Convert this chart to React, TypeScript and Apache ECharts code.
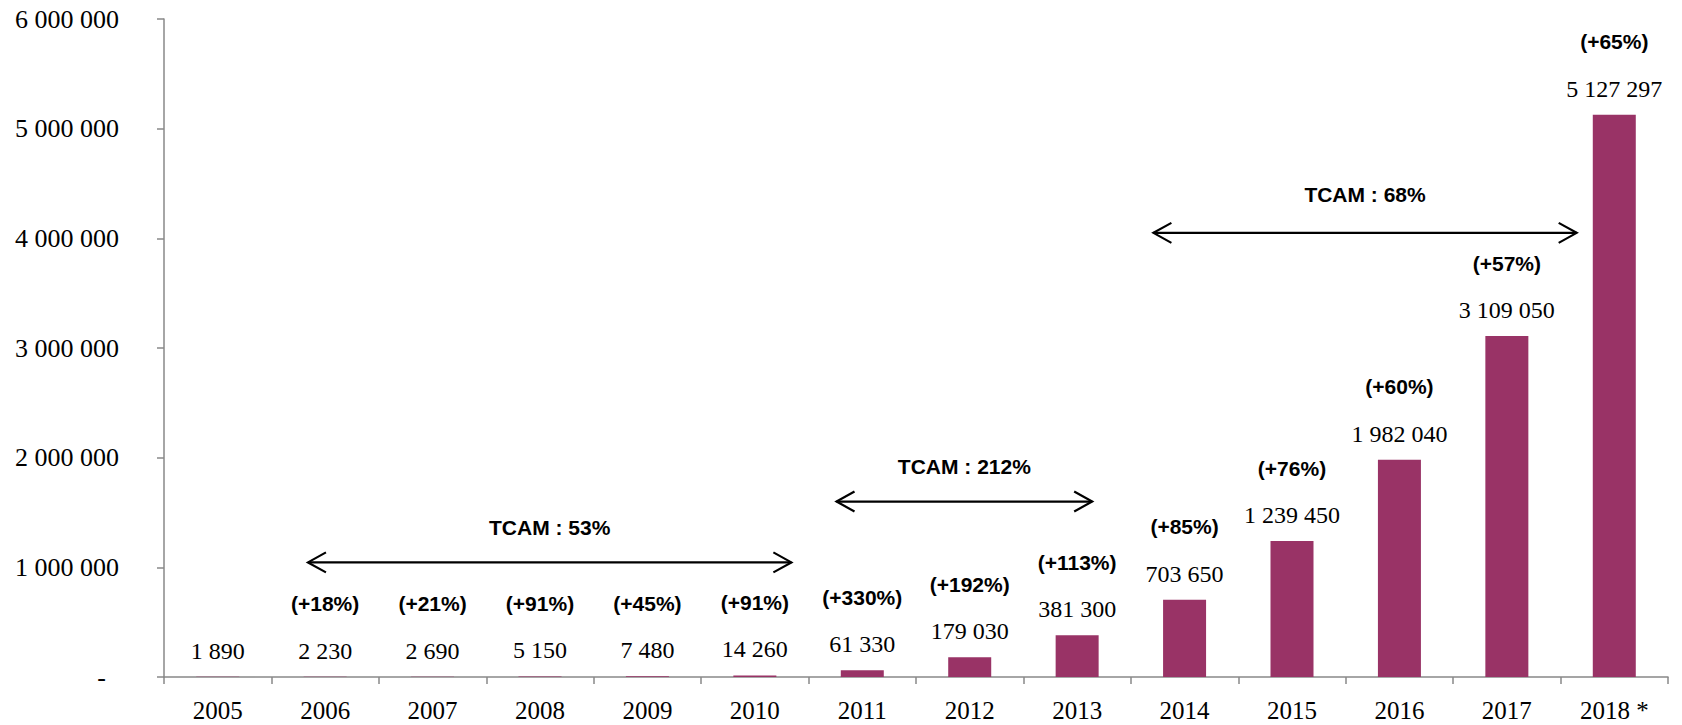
import React, { useEffect, useRef } from "react";
import * as echarts from "echarts";

const years = ["2005", "2006", "2007", "2008", "2009", "2010", "2011", "2012", "2013", "2014", "2015", "2016", "2017", "2018 *"];
const values = [1890, 2230, 2690, 5150, 7480, 14260, 61330, 179030, 381300, 703650, 1239450, 1982040, 3109050, 5127297];
const growth = ["", "(+18%)", "(+21%)", "(+91%)", "(+45%)", "(+91%)", "(+330%)", "(+192%)", "(+113%)", "(+85%)", "(+76%)", "(+60%)", "(+57%)", "(+65%)"];

const yMin = 0;
const yMax = 6000000;
const yStep = 1000000;

// CAGR annotations: label, start (category index), end (category index), level (value)
const cagrLabels = ["TCAM : 53%", "TCAM : 212%", "TCAM : 68%"];
const cagrFrom = [0.84, 5.76, 8.71];
const cagrTo = [5.34, 8.14, 12.65];
const cagrLevel = [1045000, 1600000, 4050000];
const cagrTextLift = [35, 35, 38];

const fmt = (n: number) => String(Math.round(n)).replace(/\B(?=(\d{3})+(?!\d))/g, " ");

const SERIF = "'Liberation Serif', 'Times New Roman', serif";
const SANS = "'Liberation Sans', Arial, sans-serif";

export default function App() {
  const ref = useRef<HTMLDivElement>(null);

  useEffect(() => {
    document.body.style.margin = "0";
    const chart = echarts.init(ref.current!, null, { renderer: "svg" });
    chart.setOption({
      animation: false,
      backgroundColor: "#ffffff",
      grid: { left: 164, right: 14, top: 19, bottom: 48, containLabel: false },
      xAxis: {
        type: "category",
        data: years,
        axisLine: { lineStyle: { color: "#888888", width: 1.5 } },
        axisTick: { show: true, length: 7, inside: false, lineStyle: { color: "#888888", width: 1.5 } },
        axisLabel: { color: "#000", fontFamily: SERIF, fontSize: 25, margin: 21 },
      },
      yAxis: {
        type: "value",
        min: yMin,
        max: yMax,
        interval: yStep,
        splitLine: { show: false },
        axisLine: { show: true, lineStyle: { color: "#888888", width: 1.5 } },
        axisTick: { show: true, length: 7, lineStyle: { color: "#888888", width: 1.5 } },
        axisLabel: {
          color: "#000",
          fontFamily: SERIF,
          fontSize: 26,
          margin: 45,
          formatter: (v: number) => (v === 0 ? "-\u00a0\u00a0" : fmt(v)),
        },
      },
      series: [
        {
          type: "bar",
          data: values,
          barWidth: 43,
          itemStyle: { color: "#993366" },
          label: {
            show: true,
            position: "top",
            distance: 5,
            formatter: (p: any) =>
              growth[p.dataIndex]
                ? `{p|${growth[p.dataIndex]}}\n{v|${fmt(p.value)}}`
                : `{v|${fmt(p.value)}}`,
            rich: {
              p: { fontFamily: SANS, fontWeight: "bold", fontSize: 21, lineHeight: 52, color: "#000" },
              v: { fontFamily: SERIF, fontSize: 24, lineHeight: 42, color: "#000" },
            },
          },
        },
      ],
    });

    const xAt = (idx: number) => {
      const a = chart.convertToPixel({ xAxisIndex: 0 }, 0) as number;
      const b = chart.convertToPixel({ xAxisIndex: 0 }, 1) as number;
      return a + (b - a) * idx;
    };
    const yAt = (v: number) => chart.convertToPixel({ yAxisIndex: 0 }, v) as number;

    const graphics: any[] = [];
    cagrLabels.forEach((lab, i) => {
      const x1 = xAt(cagrFrom[i]);
      const x2 = xAt(cagrTo[i]);
      const y = yAt(cagrLevel[i]);
      const st = { stroke: "#000", lineWidth: 2.2, fill: null };
      graphics.push(
        { type: "line", shape: { x1, y1: y, x2, y2: y }, style: st, z: 10 },
        { type: "polyline", shape: { points: [[x1 + 18, y - 10], [x1, y], [x1 + 18, y + 10]] }, style: st, z: 10 },
        { type: "polyline", shape: { points: [[x2 - 18, y - 10], [x2, y], [x2 - 18, y + 10]] }, style: st, z: 10 },
        {
          type: "text",
          x: (x1 + x2) / 2,
          y: y - cagrTextLift[i],
          style: {
            text: lab,
            fontFamily: SANS,
            fontWeight: "bold",
            fontSize: 21,
            fill: "#000",
            align: "center",
            verticalAlign: "middle",
          },
          z: 10,
        }
      );
    });
    chart.setOption({ graphic: graphics });

    return () => chart.dispose();
  }, []);

  return <div ref={ref} style={{ width: 1682, height: 725 }} />;
}
